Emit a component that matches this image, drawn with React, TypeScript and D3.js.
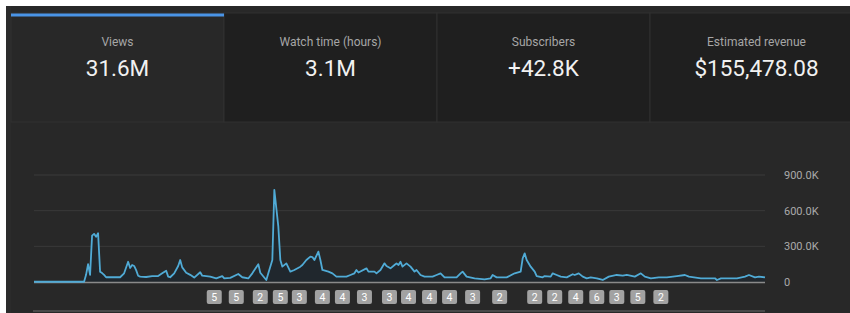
import React, { useEffect, useRef } from "react";
import * as d3 from "d3";

// day index (0..365) and daily views
const days = [
  0, 25, 26, 27, 28, 29, 30, 31, 32, 33, 34, 35, 36, 43, 45, 47, 48, 49, 50, 51,
  52, 53, 56, 59, 62, 64, 66, 67, 68, 70, 72, 73, 74, 76, 78, 80, 83, 84, 88, 91,
  94, 95, 98, 102, 104, 107, 109, 112, 113, 116, 117, 119, 120, 122, 123, 124, 126, 128, 130, 133,
  134, 136, 138, 139, 140, 142, 143, 144, 147, 149, 151, 156, 158, 160, 161, 162, 166, 167, 170, 171,
  173, 175, 176, 178, 180, 181, 182, 183, 184, 186, 188, 190, 191, 193, 195, 199, 201, 203, 205, 211,
  213, 214, 216, 220, 225, 228, 229, 231, 236, 240, 243, 244, 245, 246, 248, 250, 251, 254, 255, 258,
  259, 261, 263, 266, 269, 270, 272, 274, 276, 278, 281, 284, 287, 291, 294, 296, 300, 303, 305, 308,
  312, 316, 321, 325, 327, 333, 340, 341, 343, 351, 355, 357, 360, 362, 365,
];
const views = [
  2, 2, 60, 150, 60, 390, 405, 380, 410, 87, 75, 60, 40, 40, 73, 170, 118, 143, 135, 100,
  53, 45, 42, 50, 50, 73, 95, 45, 40, 73, 135, 185, 123, 78, 60, 37, 82, 53, 45, 30,
  50, 30, 35, 67, 40, 30, 73, 150, 78, 17, 73, 185, 775, 465, 185, 129, 157, 87, 101, 129,
  143, 185, 213, 210, 185, 255, 185, 101, 87, 73, 45, 45, 59, 73, 101, 80, 115, 87, 87, 73,
  101, 157, 135, 115, 143, 157, 143, 170, 129, 157, 129, 87, 101, 59, 45, 45, 59, 73, 39, 39,
  73, 87, 45, 31, 22, 31, 59, 39, 39, 73, 87, 199, 241, 185, 129, 87, 50, 39, 50, 45,
  73, 59, 45, 39, 65, 59, 73, 45, 31, 39, 31, 17, 45, 59, 53, 59, 45, 73, 45, 31,
  39, 39, 50, 59, 45, 31, 31, 17, 31, 31, 45, 59, 39, 45, 39,
].map((v) => v * 1000);

// numbered markers under the chart
const badgeDays = [90, 101, 113, 123, 132.5, 144, 154, 165, 177.5, 187, 197.5, 207.5, 219, 232.5, 250, 260, 270.5, 281, 291, 301.5, 313];
const badgeCounts = [5, 5, 2, 5, 3, 4, 4, 3, 3, 4, 4, 4, 3, 2, 2, 2, 4, 6, 3, 5, 2];

const yTicks = [0, 300000, 600000, 900000];

const cardTitles = ["Views", "Watch time (hours)", "Subscribers", "Estimated revenue"];
const cardValues = ["31.6M", "3.1M", "+42.8K", "$155,478.08"];

const App = () => {
  const ref = useRef<SVGSVGElement | null>(null);

  useEffect(() => {
    const svg = d3.select(ref.current);
    svg.selectAll("*").remove();

    const font = "Roboto, 'Noto Sans', sans-serif";

    // panel
    svg.append("rect").attr("x", 0).attr("y", 0).attr("width", 850).attr("height", 313).attr("fill", "#ffffff");
    svg.append("rect").attr("x", 6).attr("y", 6).attr("width", 850).attr("height", 320).attr("fill", "#282828");
    svg.append("rect").attr("x", 6).attr("y", 6).attr("width", 5).attr("height", 320).attr("fill", "#2b2b2b");

    // cards
    const cardW = 213;
    const cards = svg
      .selectAll(".card")
      .data(cardTitles)
      .enter()
      .append("g")
      .attr("class", "card")
      .attr("transform", (_d, i) => `translate(${11 + i * cardW}, 13)`);

    cards
      .append("rect")
      .attr("width", cardW)
      .attr("height", 109)
      .attr("fill", (_d, i) => (i === 0 ? "#282828" : "#1f1f1f"))
      .attr("stroke", "#303030")
      .attr("stroke-width", 1);

    cards
      .append("text")
      .attr("x", cardW / 2)
      .attr("y", 32.5)
      .attr("text-anchor", "middle")
      .attr("font-family", font)
      .attr("font-size", 12)
      .attr("fill", "#a6a6a6")
      .text((d) => d);

    cards
      .append("text")
      .attr("x", cardW / 2)
      .attr("y", 63)
      .attr("text-anchor", "middle")
      .attr("font-family", font)
      .attr("font-size", 22.5)
      .attr("fill", "#f1f1f1")
      .text((_d, i) => cardValues[i]);

    svg.append("rect").attr("x", 11).attr("y", 13.5).attr("width", cardW).attr("height", 3).attr("fill", "#4a94e6");

    // chart
    const xScale = d3.scaleLinear().domain([0, 365]).range([34, 765]);
    const yScale = d3.scaleLinear().domain([0, 900000]).range([282, 175]);

    svg
      .selectAll(".grid")
      .data(yTicks.slice(1))
      .enter()
      .append("line")
      .attr("x1", 34)
      .attr("x2", 765)
      .attr("y1", (d) => yScale(d))
      .attr("y2", (d) => yScale(d))
      .attr("stroke", "#3a3a3a")
      .attr("stroke-width", 1);

    svg
      .selectAll(".ylab")
      .data(yTicks)
      .enter()
      .append("text")
      .attr("x", 784)
      .attr("y", (d) => yScale(d) + 4)
      .attr("font-family", font)
      .attr("font-size", 11)
      .attr("fill", "#aaaaaa")
      .text((d) => (d === 0 ? "0" : d3.format(".1f")(d / 1000) + "K"));

    const pts = days.map((d, i) => [d, views[i]] as [number, number]);

    const area = d3
      .area<[number, number]>()
      .x((d) => xScale(d[0]))
      .y0(yScale(0))
      .y1((d) => yScale(d[1]));

    svg.append("path").datum(pts).attr("d", area).attr("fill", "#1e272e").attr("opacity", 0.85);

    svg
      .append("line")
      .attr("x1", 34)
      .attr("x2", 765)
      .attr("y1", yScale(0) + 0.5)
      .attr("y2", yScale(0) + 0.5)
      .attr("stroke", "#8a8a8a")
      .attr("stroke-width", 1.5);

    const line = d3
      .line<[number, number]>()
      .x((d) => xScale(d[0]))
      .y((d) => yScale(d[1]));

    svg
      .append("path")
      .datum(pts)
      .attr("d", line)
      .attr("fill", "none")
      .attr("stroke", "#50abd6")
      .attr("stroke-width", 1.8)
      .attr("stroke-linejoin", "round");

    // badges
    const badge = svg
      .selectAll(".badge")
      .data(badgeDays)
      .enter()
      .append("g")
      .attr("class", "badge")
      .attr("transform", (d) => `translate(${xScale(d)}, 297)`);

    badge
      .append("rect")
      .attr("x", -7.5)
      .attr("y", -7)
      .attr("width", 15)
      .attr("height", 14)
      .attr("rx", 2)
      .attr("fill", "#a2a2a2");

    badge
      .append("text")
      .attr("y", 3.8)
      .attr("text-anchor", "middle")
      .attr("font-family", font)
      .attr("font-size", 10.5)
      .attr("fill", "#ffffff")
      .text((_d, i) => badgeCounts[i]);

    svg
      .append("line")
      .attr("x1", 33)
      .attr("x2", 765)
      .attr("y1", 311)
      .attr("y2", 311)
      .attr("stroke", "#555555")
      .attr("stroke-width", 1.5);
  }, []);

  return (
    <svg
      ref={ref}
      width={850}
      height={313}
      style={{ position: "absolute", left: 0, top: 0, display: "block" }}
    />
  );
};

export default App;
